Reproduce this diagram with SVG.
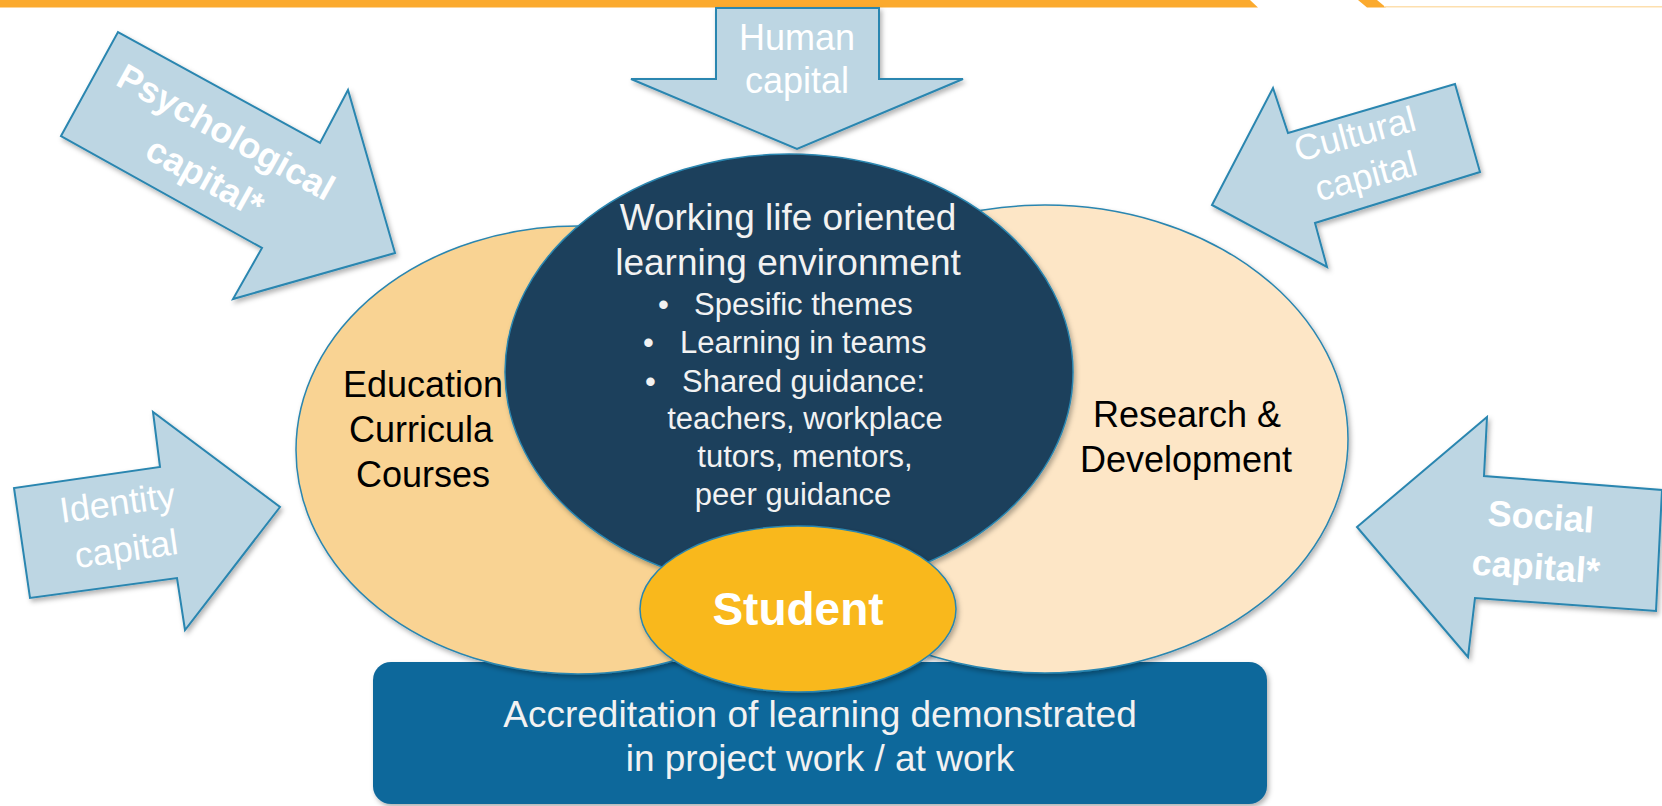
<svg xmlns="http://www.w3.org/2000/svg" width="1662" height="806" viewBox="0 0 1662 806">
  <style>
    .arrow { fill: #BDD6E3; stroke: #2A86B0; stroke-width: 2; stroke-linejoin: miter; filter: url(#shadow); }
    .atext { font-family: "Liberation Sans", Arial, sans-serif; font-size: 36px; fill: #FFFFFF; text-anchor: middle; }
    .abold { font-weight: bold; }
    .ell { stroke: #2A86B0; stroke-width: 1.5; filter: url(#shadow); }
    .dark { font-family: "Liberation Sans", Arial, sans-serif; fill: #F2F2F2; }
    .black { font-family: "Liberation Sans", Arial, sans-serif; font-size: 36px; fill: #000000; text-anchor: middle; }
  </style>
  <defs>
    <filter id="shadow" x="-10%" y="-10%" width="130%" height="130%">
      <feDropShadow dx="2" dy="3" stdDeviation="2.5" flood-color="#000000" flood-opacity="0.3"/>
    </filter>
  </defs>
  <rect width="1662" height="806" fill="#FFFFFF"/>

  <g id="top-bar">
    <polygon points="0,0 1250,0 1258,7.5 0,7.5" fill="#FBAA2E"/>
    <polygon points="1358,0 1377,0 1386,7.5 1367,7.5" fill="#FBAA2E"/>
    <line x1="1384" y1="6.8" x2="1662" y2="6.8" stroke="#FDDFAE" stroke-width="1.6"/>
  </g>

  <g id="accreditation">
    <rect x="373" y="662" width="894" height="142" rx="18" ry="18" fill="#0F689B" filter="url(#shadow)"/>
    <text class="dark" font-size="37" fill="#FFFFFF" text-anchor="middle" x="820" y="727">Accreditation of learning demonstrated</text>
    <text class="dark" font-size="37" fill="#FFFFFF" text-anchor="middle" x="820" y="771">in project work / at work</text>
  </g>

  <g id="education">
    <ellipse class="ell" cx="578" cy="450" rx="282" ry="224" fill="#F9D393"/>
    <text class="black" x="423" y="397">Education</text>
    <text class="black" x="421" y="442">Curricula</text>
    <text class="black" x="423" y="487">Courses</text>
  </g>

  <g id="research">
    <ellipse class="ell" cx="1045" cy="439" rx="303" ry="234" fill="#FDE6C6"/>
    <text class="black" x="1187" y="427">Research &amp;</text>
    <text class="black" x="1186" y="472">Development</text>
  </g>

  <g id="learning-environment">
    <ellipse class="ell" cx="789" cy="372" rx="284" ry="218" fill="#1A3F5C"/>
    <text class="dark" font-size="37" text-anchor="middle" x="788" y="230">Working life oriented</text>
    <text class="dark" font-size="37" text-anchor="middle" x="788" y="275">learning environment</text>
    <text class="dark" font-size="31" x="658" y="315">•</text>
    <text class="dark" font-size="31" x="694" y="315">Spesific themes</text>
    <text class="dark" font-size="31" x="643" y="353">•</text>
    <text class="dark" font-size="31" x="680" y="353">Learning in teams</text>
    <text class="dark" font-size="31" x="645" y="392">•</text>
    <text class="dark" font-size="31" x="682" y="392">Shared guidance:</text>
    <text class="dark" font-size="31" text-anchor="middle" x="805" y="429">teachers, workplace</text>
    <text class="dark" font-size="31" text-anchor="middle" x="805" y="467">tutors, mentors,</text>
    <text class="dark" font-size="31" text-anchor="middle" x="793" y="505">peer guidance</text>
  </g>

  <g id="student">
    <ellipse class="ell" cx="798" cy="609" rx="158" ry="83" fill="#F9B81B"/>
    <text font-family="'Liberation Sans', Arial, sans-serif" font-size="46" font-weight="bold" fill="#FFFFFF" text-anchor="middle" x="798" y="625">Student</text>
  </g>

  <g id="human-capital">
    <polygon class="arrow" points="716,8 879,8 879,79 963,79 797,149 631,79 716,79"/>
    <text class="atext" x="797" y="50">Human</text>
    <text class="atext" x="797" y="93">capital</text>
  </g>

  <g id="psychological-capital">
    <polygon class="arrow" points="61,136 118,32 320,143 348,90 395,253 233,299 262,248"/>
    <text class="atext abold" font-size="35" transform="translate(220,143) rotate(29)">Psychological</text>
    <text class="atext abold" font-size="35" transform="translate(199,188) rotate(29)">capital*</text>
  </g>

  <g id="cultural-capital">
    <polygon class="arrow" points="1212,205 1273,88 1288,133 1455,84 1480,172 1315,223 1327,267"/>
    <text class="atext" transform="translate(1358,146) rotate(-15)">Cultural</text>
    <text class="atext" transform="translate(1369,188) rotate(-15)">capital</text>
  </g>

  <g id="identity-capital">
    <polygon class="arrow" points="280,507 185,630 177,578 30,598 14,488 160,467 153,412"/>
    <text class="atext" transform="translate(119,515) rotate(-8)">Identity</text>
    <text class="atext" transform="translate(128,561) rotate(-8)">capital</text>
  </g>

  <g id="social-capital">
    <polygon class="arrow" points="1357,527 1487,417 1484,476 1662,490 1656,611 1475,598 1468,657"/>
    <text class="atext abold" transform="translate(1540,529) rotate(4)">Social</text>
    <text class="atext abold" transform="translate(1535,579) rotate(4)">capital*</text>
  </g>

  <g id="connectors"></g>
</svg>
